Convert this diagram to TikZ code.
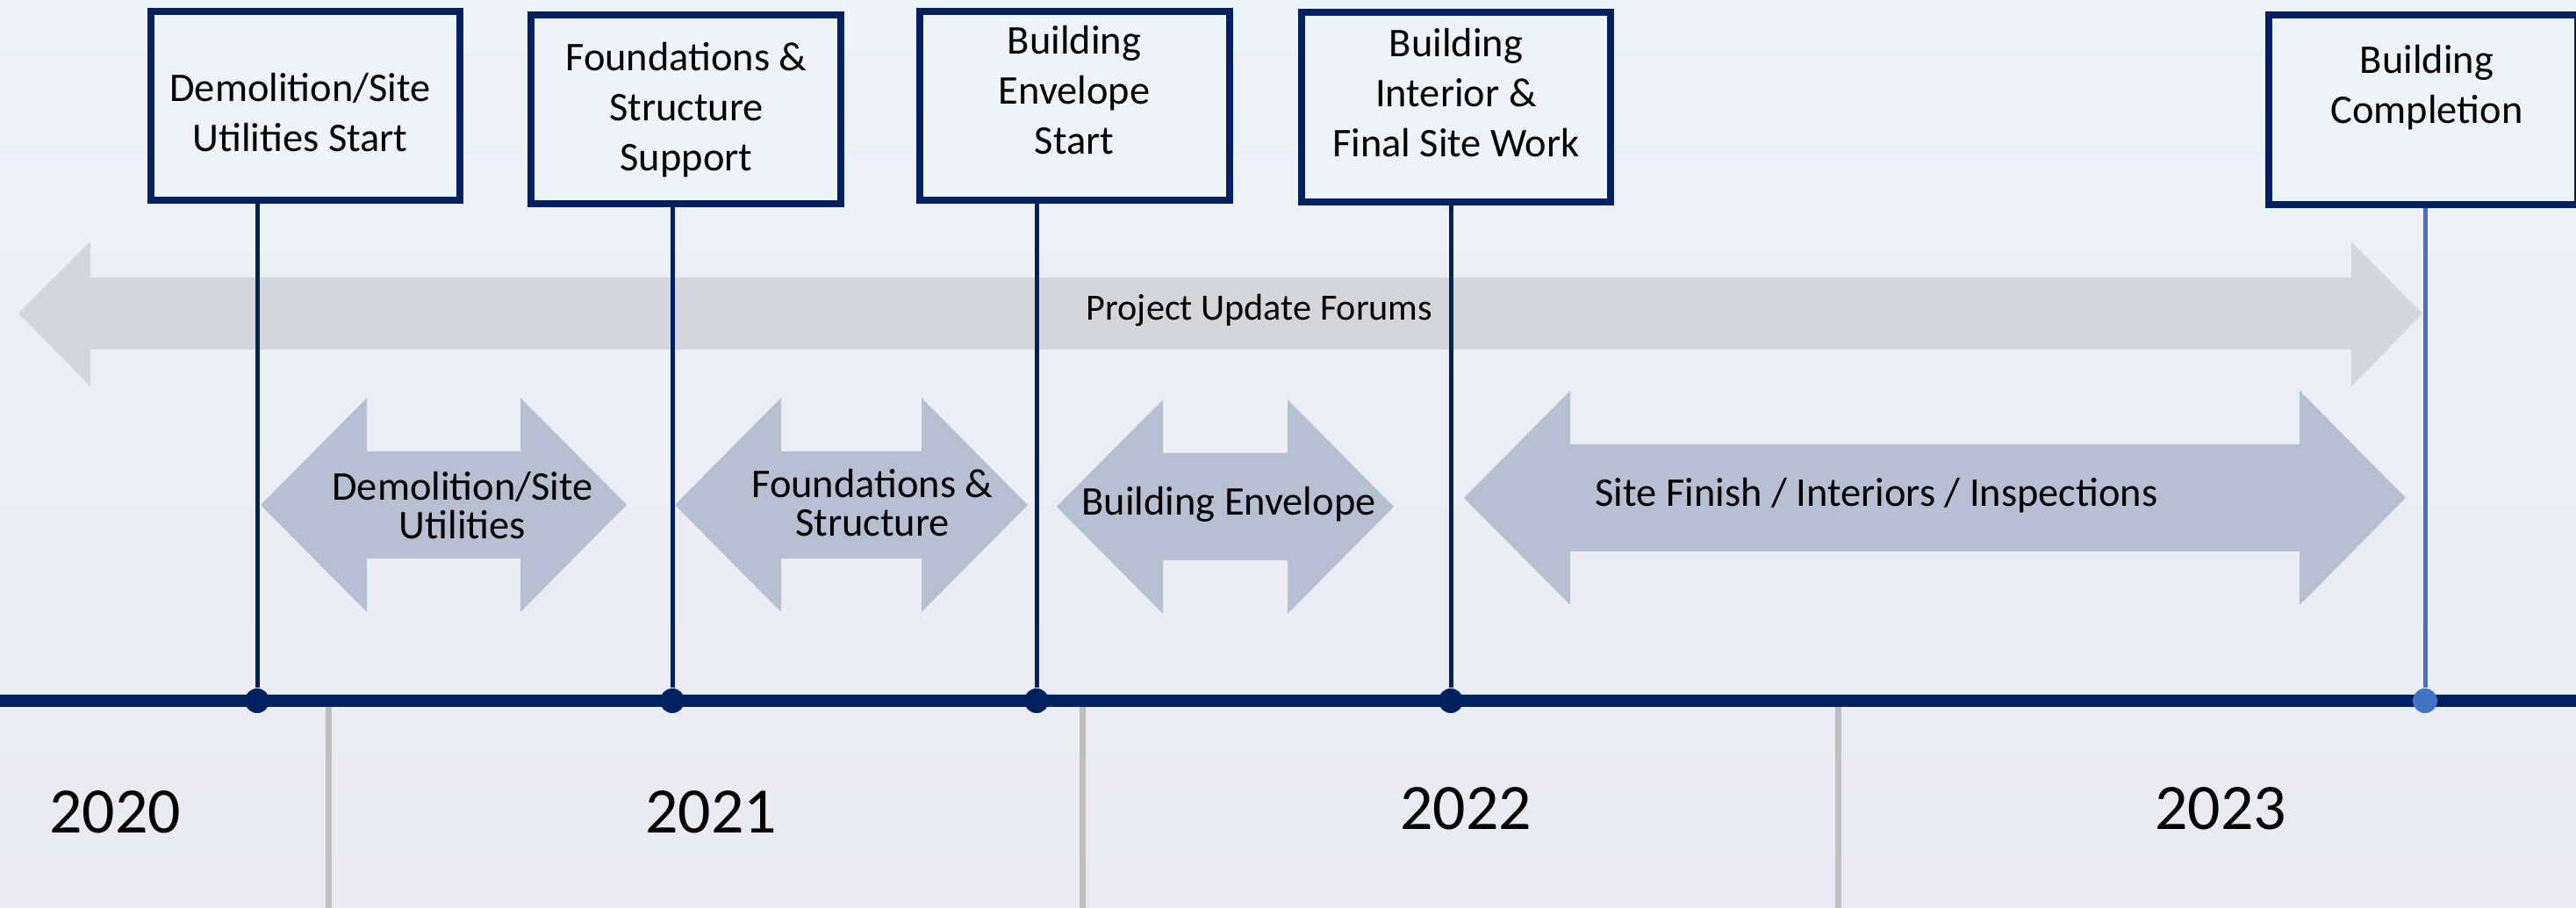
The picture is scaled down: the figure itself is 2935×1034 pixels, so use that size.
\documentclass[tikz,border=0pt]{standalone}
\usepackage{fontspec}
\setmainfont{Carlito}
\definecolor{navy}{HTML}{002060}
\definecolor{compblue}{HTML}{4472C4}
\definecolor{bgtop}{HTML}{EEF2F9}
\definecolor{bgbot}{HTML}{EAE9F1}
\definecolor{forumgrey}{HTML}{D5D6DB}
\definecolor{phasefill}{HTML}{B7C0D3}
\definecolor{tickgrey}{HTML}{BFBFBF}
\newcommand\phasearrow[3]{\fill[phasefill] (#1,#3) -- ({#1+121},{#3-122}) -- ({#1+121},{#3-61}) -- ({#2-121},{#3-61}) -- ({#2-121},{#3-122}) -- (#2,#3) -- ({#2-121},{#3+122}) -- ({#2-121},{#3+61}) -- ({#1+121},{#3+61}) -- ({#1+121},{#3+122}) -- cycle;}
\begin{document}
\begin{tikzpicture}[x=0.01cm,y=-0.01cm,
  milestone/.style={draw=navy, line width=0.08cm, fill=bgtop, minimum width=3.52cm, minimum height=2.15cm, inner sep=0},
  boxtext/.style={align=center, inner sep=0, font=\fontsize{13.2}{16.2}\selectfont},
  phasetext/.style={align=center, inner sep=0, font=\fontsize{13.2}{12.5}\selectfont},
  yeartext/.style={inner sep=0, font=\fontsize{21}{25}\selectfont},
  dot/.style={circle, fill=navy, minimum size=0.28cm, inner sep=0},
  stem/.style={draw=navy, line width=0.05cm},
  tick/.style={draw=tickgrey, line width=0.07cm}]
\useasboundingbox (0,0) rectangle (2935,1034);
\clip (0,0) rectangle (2935,1034);
\shade[top color=bgtop, bottom color=bgbot] (0,0) rectangle (2935,1034);
% forums arrow
\fill[forumgrey] (21,357) -- (103,275) -- (103,316) -- (2679,316) -- (2679,275) -- (2760,357) -- (2679,440) -- (2679,398) -- (103,398) -- (103,440) -- cycle;
\node[inner sep=0, font=\fontsize{12}{14}\selectfont] (forums) at (1435,353) {Project Update Forums};
% phase arrows
\phasearrow{297}{714}{575}
\phasearrow{769}{1171}{575}
\phasearrow{1204}{1588}{577}
\phasearrow{1668}{2741}{567}
\node[phasetext] (p1) at (527,576) {Demolition/Site\\Utilities};
\node[phasetext] (p2) at (994,573) {Foundations \&\\Structure};
\node[phasetext] (p3) at (1400,574) {Building Envelope};
\node[phasetext] (p4) at (2138,564) {Site Finish / Interiors / Inspections};
% ticks
\coordinate (k1) at (374,805); \coordinate (k1b) at (374,1034);
\coordinate (k2) at (1233,805); \coordinate (k2b) at (1233,1034);
\coordinate (k3) at (2094,805); \coordinate (k3b) at (2094,1034);
\draw[tick] (k1) -- (k1b);
\draw[tick] (k2) -- (k2b);
\draw[tick] (k3) -- (k3b);
% timeline
\coordinate (tlL) at (0,798); \coordinate (tlR) at (2935,798);
\draw[navy, line width=0.14cm] (tlL) -- (tlR);
% boxes
\node[milestone] (b1) at (348,120.5) {};
\node[milestone] (b2) at (781.5,124.5) {};
\node[milestone] (b3) at (1224.5,120.5) {};
\node[milestone] (b4) at (1659,122) {};
\node[milestone] (b5) at (2761,125) {};
% dots
\node[dot] (d1) at (293,798) {};
\node[dot] (d2) at (766,798) {};
\node[dot] (d3) at (1181,798) {};
\node[dot] (d4) at (1653,798) {};
\node[dot, fill=compblue] (d5) at (2763,798) {};
% stems
\draw[stem] (d1) -- (d1 |- b1.south);
\draw[stem] (d2) -- (d2 |- b2.south);
\draw[stem] (d3) -- (d3 |- b3.south);
\draw[stem] (d4) -- (d4 |- b4.south);
\draw[stem, draw=compblue] (d5) -- (d5 |- b5.south);
% box texts
\node[boxtext] (t1) at (342,128) {Demolition/Site\\Utilities Start};
\node[boxtext] (t2) at (782,125) {Foundations \&\\Structure\\Support};
\node[boxtext] (t3) at (1224,103) {Building\\Envelope\\Start};
\node[boxtext] (t4) at (1659,106) {Building\\Interior \&\\Final Site Work};
\node[boxtext] (t5) at (2765,100) {Building\\Completion};
% years
\node[yeartext] (y1) at (131,925) {2020};
\node[yeartext] (y2) at (810,925) {2021};
\node[yeartext] (y3) at (1670,921) {2022};
\node[yeartext] (y4) at (2530,921) {2023};
\end{tikzpicture}
\end{document}
